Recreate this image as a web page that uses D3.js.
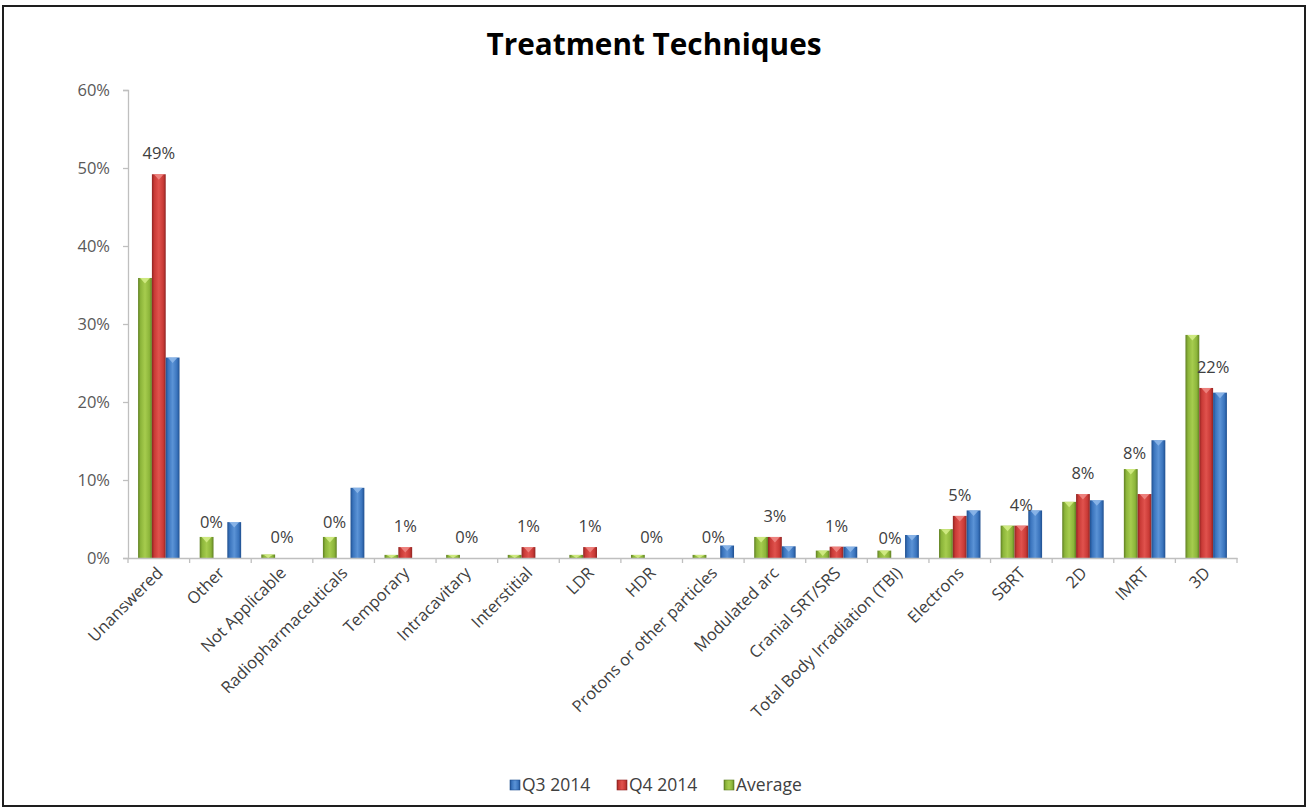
<!DOCTYPE html>
<html>
<head>
<meta charset="utf-8">
<script src="https://cdn.jsdelivr.net/npm/d3@7"></script>
<style>
  html, body { margin: 0; padding: 0; background: #fff; }
  svg { display: block; }
</style>
</head>
<body>
<svg id="chart" width="1307" height="808"></svg>
<script>
// ---------------- DATA ----------------
const categories = [
  "Unanswered", "Other", "Not Applicable", "Radiopharmaceuticals", "Temporary",
  "Intracavitary", "Interstitial", "LDR", "HDR", "Protons or other particles",
  "Modulated arc", "Cranial SRT/SRS", "Total Body Irradiation (TBI)", "Electrons",
  "SBRT", "2D", "IMRT", "3D"
];
const q3_2014 = [25.7, 4.6, 0, 9.0, 0, 0, 0, 0, 0, 1.6, 1.5, 1.45, 2.95, 6.1, 6.1, 7.4, 15.1, 21.2];
const q4_2014 = [49.2, 0, 0, 0, 1.4, 0, 1.4, 1.4, 0, 0, 2.7, 1.45, 0, 5.4, 4.15, 8.2, 8.2, 21.8];
const average = [35.9, 2.7, 0.45, 2.7, 0.4, 0.4, 0.4, 0.4, 0.4, 0.4, 2.7, 0.95, 0.95, 3.7, 4.15, 7.2, 11.4, 28.6];
const yTicks = [0, 10, 20, 30, 40, 50, 60];
const seriesNames = ["Average", "Q4 2014", "Q3 2014"];      // bar order left->right
const legendNames = ["Q3 2014", "Q4 2014", "Average"];      // legend order
const title = "Treatment Techniques";

// ---------------- LAYOUT / STYLE ----------------
const seriesValues = { "Average": average, "Q4 2014": q4_2014, "Q3 2014": q3_2014 };
const colors = {
  "Q3 2014": { base: "#3a74bd", dark: "#1f4f8f", light: "#5b93d6", cap: "#8fb8ea" },
  "Q4 2014": { base: "#c93a36", dark: "#8f2422", light: "#e0524d", cap: "#f08a86" },
  "Average": { base: "#8cb53a", dark: "#5f7f22", light: "#a6cc4e", cap: "#d6ef8a" }
};
// manual label nudges (dx, dy) as in the original chart
const labelNudge = {
  "Other": [-9, -15],
  "Radiopharmaceuticals": [-9, -15],
  "Total Body Irradiation (TBI)": [-8, 1],
  "IMRT": [-10, -20],
  "3D": [7, 0]
};

const svg = d3.select("#chart");
const font = "'Open Sans', 'Liberation Sans', sans-serif";
const margin = { left: 128, right: 1237, top: 90, bottom: 558 };

// frame
svg.append("rect").attr("x", 3).attr("y", 6).attr("width", 1302).attr("height", 800)
  .attr("fill", "#fff").attr("stroke", "#1e1e1e").attr("stroke-width", 2);

// gradients
const defs = svg.append("defs");
Object.entries(colors).forEach(([name, c], i) => {
  const g = defs.append("linearGradient").attr("id", "grad" + i)
    .attr("x1", "0%").attr("x2", "100%").attr("y1", "0%").attr("y2", "0%");
  g.append("stop").attr("offset", "0%").attr("stop-color", c.dark);
  g.append("stop").attr("offset", "18%").attr("stop-color", c.base);
  g.append("stop").attr("offset", "50%").attr("stop-color", c.light);
  g.append("stop").attr("offset", "82%").attr("stop-color", c.base);
  g.append("stop").attr("offset", "100%").attr("stop-color", c.dark);
  c.grad = "url(#grad" + i + ")";
});

// scales
const x0 = d3.scaleBand().domain(categories).range([margin.left, margin.right]).padding(0);
const x1 = d3.scaleBand().domain(seriesNames).range([0, x0.bandwidth()])
  .paddingInner(0).paddingOuter(0.73);
const y = d3.scaleLinear().domain([0, 60]).range([margin.bottom, margin.top]);

// title
const t = svg.append("text").attr("x", 654).attr("y", 55)
  .attr("text-anchor", "middle")
  .attr("font-family", font).attr("font-weight", "bold").attr("font-size", 31)
  .attr("fill", "#000").text(title);
t.attr("textLength", 335).attr("lengthAdjust", "spacingAndGlyphs");

// y axis
const yAxis = d3.axisLeft(y).tickValues(yTicks).tickFormat(d => d + "%").tickSize(5).tickPadding(13);
const gy = svg.append("g").attr("transform", `translate(${margin.left},0)`).call(yAxis);
gy.select(".domain").attr("stroke", "#bfbfbf").attr("stroke-width", 1.3);
gy.selectAll(".tick line").attr("stroke", "#bfbfbf").attr("stroke-width", 1.3);
gy.selectAll(".tick text").attr("font-family", font).attr("font-size", 16.5).attr("fill", "#595959");

// bars
const groups = svg.append("g").selectAll("g").data(categories).join("g")
  .attr("transform", d => `translate(${x0(d)},0)`);
seriesNames.forEach(s => {
  const vals = seriesValues[s];
  const c = colors[s];
  groups.filter((d, i) => vals[i] > 0).each(function(d) {
    const i = categories.indexOf(d);
    const v = vals[i];
    const g = d3.select(this);
    const bx = x1(s), bw = x1.bandwidth();
    const top = y(v), h = y(0) - y(v);
    g.append("rect").attr("x", bx).attr("y", top).attr("width", bw).attr("height", h)
      .attr("fill", c.grad);
    // top bevel highlight
    const capH = Math.min(5.5, h);
    g.append("path")
      .attr("d", `M${bx + 2},${top} L${bx + bw - 2},${top} L${bx + bw / 2},${top + capH} Z`)
      .attr("fill", c.cap).attr("opacity", 0.85);
  });
});

// x axis
const xAxis = d3.axisBottom(x0).tickSize(0).tickFormat("");
const gx = svg.append("g").attr("transform", `translate(0,${margin.bottom})`).call(xAxis);
gx.select(".domain").attr("stroke", "#bfbfbf").attr("stroke-width", 1.3);
// boundary ticks
const bounds = categories.map(c => x0(c)).concat([margin.right]);
gx.selectAll(".bound").data(bounds).join("line").attr("class", "bound")
  .attr("x1", d => d).attr("x2", d => d).attr("y1", 0).attr("y2", 5)
  .attr("stroke", "#bfbfbf").attr("stroke-width", 1.3);
gx.selectAll(".tick").remove();

// x labels
svg.append("g").selectAll("text").data(categories).join("text")
  .attr("transform", d => `translate(${x0(d) + x0.bandwidth() / 2 + 5},${margin.bottom + 16}) rotate(-45)`)
  .attr("text-anchor", "end")
  .attr("font-family", font).attr("font-size", 16.5).attr("fill", "#404040")
  .text(d => d);

// data labels (Q4 2014)
svg.append("g").selectAll("text").data(categories).join("text")
  .attr("x", (d, i) => x0(d) + x0.bandwidth() / 2 + (labelNudge[d] ? labelNudge[d][0] : 0))
  .attr("y", (d, i) => y(q4_2014[i]) - 21 + 6 + (labelNudge[d] ? labelNudge[d][1] : 0))
  .attr("text-anchor", "middle")
  .attr("font-family", font).attr("font-size", 16.5).attr("fill", "#404040")
  .text((d, i) => Math.round(q4_2014[i]) + "%");

// legend
const legendX = [510, 617, 724];
const lg = svg.append("g").selectAll("g").data(legendNames).join("g")
  .attr("transform", (d, i) => `translate(${legendX[i]},780)`);
lg.append("rect").attr("x", 0).attr("y", 0).attr("width", 10).attr("height", 10)
  .attr("fill", d => colors[d].grad).attr("stroke", d => colors[d].dark).attr("stroke-width", 0.6);
lg.append("text").attr("x", 12).attr("y", 11)
  .attr("font-family", font).attr("font-size", 17.5).attr("fill", "#404040")
  .text(d => d);
</script>
</body>
</html>
